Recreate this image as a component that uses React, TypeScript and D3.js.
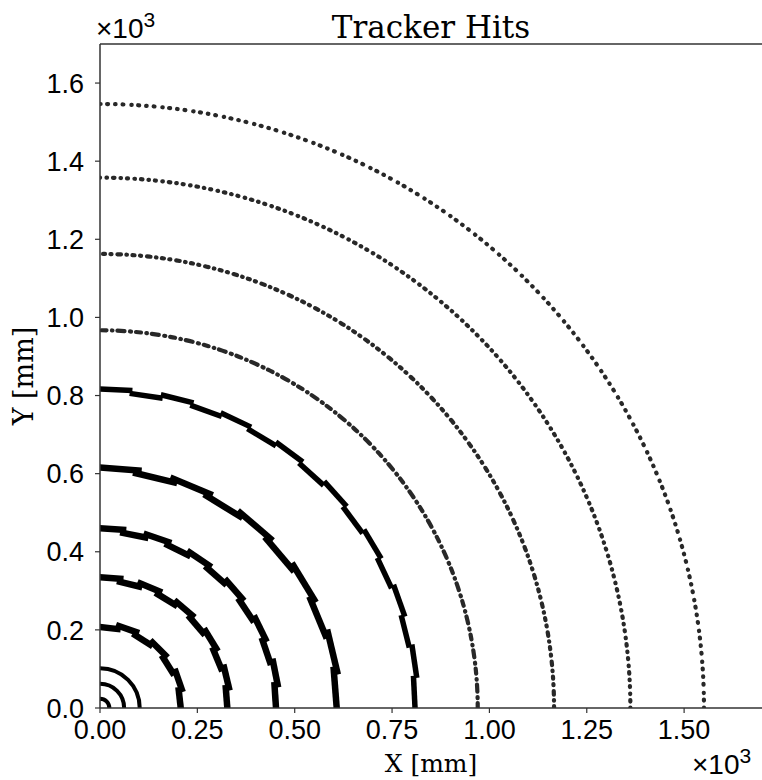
import React from "react";
import * as d3 from "d3";

// layer radii in mm
const vertexRadii = [24, 62, 102];
const staveRadii = [210, 330, 455, 610, 812];
const staveCounts = [7, 10, 12, 10, 16];
const staveWidths = [6.5, 6.5, 6.5, 6.5, 5.5];
const staveOverlap = [1.3, 1.3, 1.25, 1.22, 1.08];
const outerRadii = [970, 1166, 1362, 1551];
const outerDash = [
  "5 5 1 5.5 7 5 0.5 5.5",
  "2 5.5 0.5 5.5 3.5 6 1 5.5",
  "0.5 6 1.5 6 0.5 6.5 1 6",
  "0.5 7 1 6.5 0.3 8 0.8 7",
];

const xTicks = [0, 250, 500, 750, 1000, 1250, 1500];
const yTicks = [0, 200, 400, 600, 800, 1000, 1200, 1400, 1600];

const W = 762;
const H = 780;
const margin = { left: 100, top: 44, right: 0, bottom: 72 };

const x = d3.scaleLinear().domain([0, 1700]).range([margin.left, W - margin.right]);
const y = d3.scaleLinear().domain([0, 1700]).range([H - margin.bottom, margin.top]);

const sans = "'Liberation Sans', Arial, sans-serif";
const serif = "'DejaVu Serif', 'Liberation Serif', serif";

function stavePath(r: number, n: number, i: number, overlap: number) {
  // flat module, alternating slightly in and out like barrel staves
  const step = Math.PI / 2 / n;
  const theta = (i + 0.5) * step;
  const half = (step / 2) * overlap;
  const d = r + (i % 2 ? 4 : -4);
  const rho = d / Math.cos(half);
  const a0 = theta - half;
  const a1 = theta + half;
  return `M${x(rho * Math.cos(a0))},${y(rho * Math.sin(a0))}L${x(rho * Math.cos(a1))},${y(rho * Math.sin(a1))}`;
}

function arcPath(r: number) {
  const p = d3.path();
  const rpx = x(r) - x(0);
  p.arc(x(0), y(0), rpx, 0, -Math.PI / 2, true);
  return p.toString();
}

export default function App() {
  const x0 = x(0);
  const y0 = y(0);
  return (
    <svg width={W} height={H} style={{ display: "block", position: "absolute", left: 0, top: 0 }}>
      <rect width={W} height={H} fill="#fff" />
      <defs>
        <clipPath id="plot">
          <rect x={x0} y={margin.top} width={W - x0} height={y0 - margin.top} />
        </clipPath>
      </defs>
      <g clipPath="url(#plot)">
        {vertexRadii.map((r) => (
          <path key={r} d={arcPath(r)} fill="none" stroke="#000" strokeWidth={4} />
        ))}
        {staveRadii.map((r, li) =>
          d3.range(staveCounts[li]).map((i) => (
            <path
              key={`${r}-${i}`}
              d={stavePath(r, staveCounts[li], i, staveOverlap[li])}
              fill="none"
              stroke="#000"
              strokeWidth={staveWidths[li]}
            />
          ))
        )}
        {outerRadii.map((r, i) => (
          <path
            key={r}
            d={arcPath(r)}
            fill="none"
            stroke="#111"
            strokeOpacity={0.9}
            strokeWidth={4.2}
            strokeLinecap="round"
            strokeDasharray={outerDash[i]}
          />
        ))}
      </g>

      {/* spines */}
      <line x1={x0} x2={x0} y1={margin.top} y2={y0} stroke="#333" strokeWidth={1.5} />
      <line x1={x0} x2={W} y1={y0} y2={y0} stroke="#333" strokeWidth={1.5} />
      <line x1={x0} x2={W} y1={margin.top} y2={margin.top} stroke="#333" strokeWidth={1.5} />

      {xTicks.map((t) => (
        <g key={t} transform={`translate(${x(t)},${y0})`}>
          <line y2={5} stroke="#333" strokeWidth={1.2} />
          <text y={31} textAnchor="middle" fontFamily={sans} fontSize={27} fill="#000">
            {(t / 1000).toFixed(2)}
          </text>
        </g>
      ))}
      {yTicks.map((t) => (
        <g key={t} transform={`translate(${x0},${y(t)})`}>
          <line x2={-5} stroke="#333" strokeWidth={1.2} />
          <text x={-16} dy="0.36em" textAnchor="end" fontFamily={sans} fontSize={27} fill="#000">
            {(t / 1000).toFixed(1)}
          </text>
        </g>
      ))}

      <text x={96} y={38} fontFamily={sans} fontSize={28} fill="#000">
        ×10<tspan dy={-11} fontSize={21}>3</tspan>
      </text>
      <text x={692} y={774} fontFamily={sans} fontSize={28} fill="#000">
        ×10<tspan dy={-11} fontSize={21}>3</tspan>
      </text>

      <text x={(x0 + W) / 2} y={38} textAnchor="middle" fontFamily={serif} fontSize={31} fill="#000">
        Tracker Hits
      </text>
      <text x={(x0 + W) / 2} y={772} textAnchor="middle" fontFamily={serif} fontSize={25} fill="#000">
        X [mm]
      </text>
      <text
        transform={`translate(33,${(margin.top + y0) / 2}) rotate(-90)`}
        textAnchor="middle"
        fontFamily={serif}
        fontSize={27}
        fill="#000"
      >
        Y [mm]
      </text>
    </svg>
  );
}
